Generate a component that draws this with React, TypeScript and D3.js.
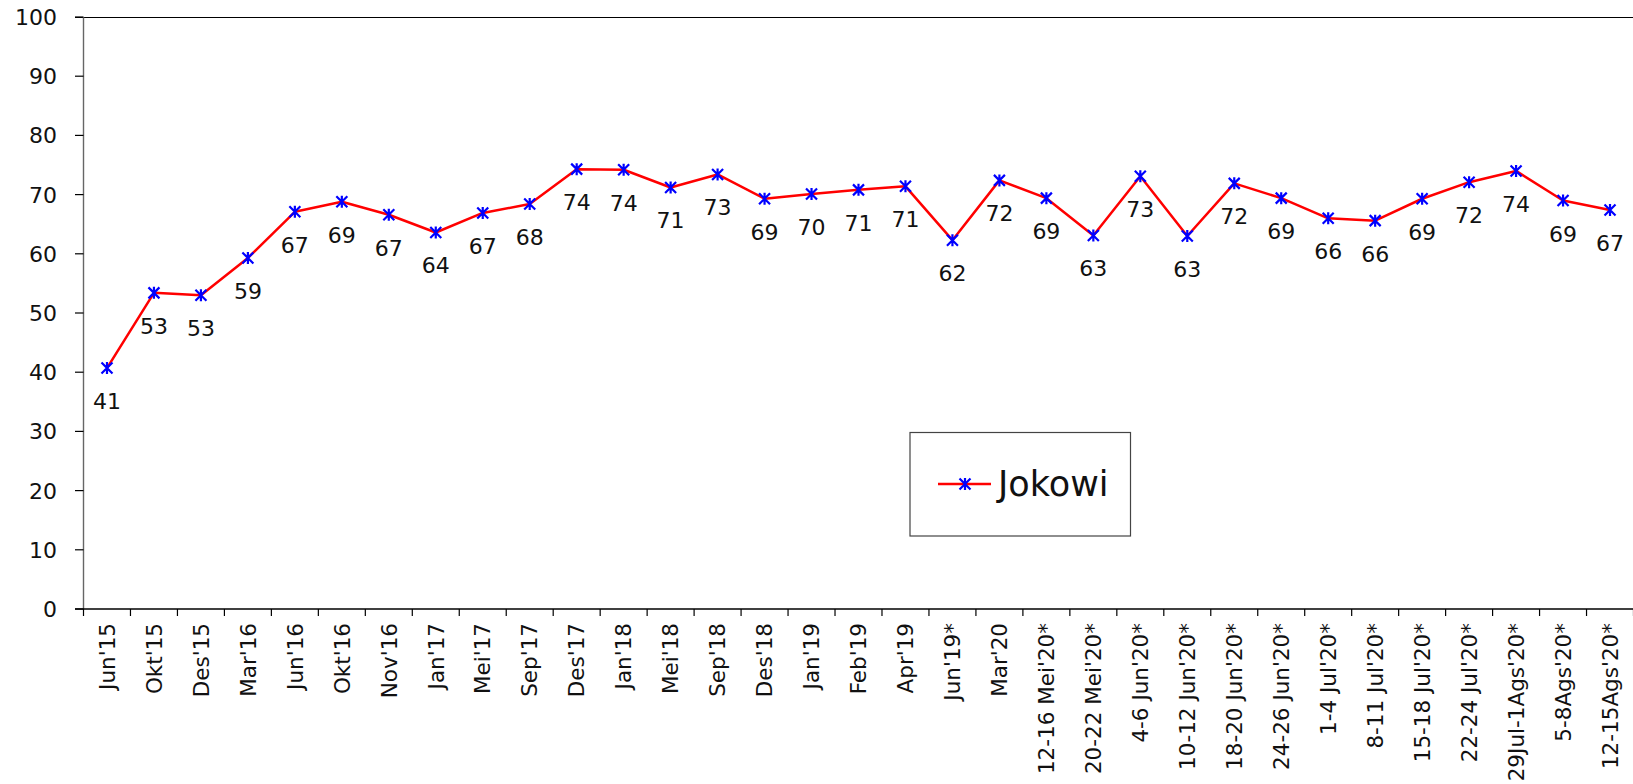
import React from "react";
import * as d3 from "d3";

const categories: string[] = [
  "Jun'15", "Okt'15", "Des'15", "Mar'16", "Jun'16", "Okt'16", "Nov'16", "Jan'17",
  "Mei'17", "Sep'17", "Des'17", "Jan'18", "Mei'18", "Sep'18", "Des'18", "Jan'19",
  "Feb'19", "Apr'19", "Jun'19*", "Mar'20", "12-16 Mei'20*", "20-22 Mei'20*",
  "4-6 Jun'20*", "10-12 Jun'20*", "18-20 Jun'20*", "24-26 Jun'20*", "1-4 Jul'20*",
  "8-11 Jul'20*", "15-18 Jul'20*", "22-24 Jul'20*", "29Jul-1Ags'20*", "5-8Ags'20*",
  "12-15Ags'20*",
];

const jokowi: number[] = [
  40.7, 53.4, 53.0, 59.3, 67.1, 68.8, 66.6, 63.6, 66.9, 68.4, 74.3, 74.2, 71.2,
  73.4, 69.3, 70.1, 70.8, 71.4, 62.3, 72.4, 69.4, 63.1, 73.1, 63.0, 71.9, 69.4,
  66.0, 65.6, 69.3, 72.1, 74.0, 69.0, 67.4,
];

const yTicks: number[] = [0, 10, 20, 30, 40, 50, 60, 70, 80, 90, 100];
const seriesName = "Jokowi";

const W = 1633;
const H = 784;
const left = 83.5;
const right = 1633.5;
const top = 17;
const bottom = 609;
const FONT = "'DejaVu Sans', Verdana, sans-serif";

export default function App() {
  const x = d3.scaleBand<string>().domain(categories).range([left, right]);
  const y = d3.scaleLinear().domain([0, 100]).range([bottom, top]);
  const cx = (c: string) => (x(c) as number) + x.bandwidth() / 2;
  const line = d3
    .line<number>()
    .x((_, i) => cx(categories[i]))
    .y((d) => y(d));
  const r = 5.5;
  const star = (px: number, py: number) =>
    `M${px - r},${py - r}L${px + r},${py + r}M${px - r},${py + r}L${px + r},${py - r}M${px},${py - r - 0.5}L${px},${py + r + 0.5}`;
  const bounds = d3.range(categories.length + 1).map((k) => left + k * x.step());

  const lg = { x: 910, y: 432.5, w: 220.5, h: 103.5 };
  const lgY = 484;

  return (
    <svg
      width={W}
      height={H}
      style={{ position: "absolute", left: 0, top: 0, background: "#fff" }}
      fontFamily={FONT}
    >
      {/* top border */}
      <line x1={75} x2={right} y1={top + 0.5} y2={top + 0.5} stroke="#000" strokeWidth={1.2} />
      {/* y axis */}
      <line x1={left} x2={left} y1={top} y2={bottom} stroke="#666" strokeWidth={1.4} />
      {yTicks.map((t) => (
        <g key={t}>
          <line x1={75} x2={left} y1={y(t)} y2={y(t)} stroke="#000" strokeWidth={1.2} />
          <text x={57} y={y(t)} dy="0.36em" textAnchor="end" fontSize={22} fill="#111">
            {t}
          </text>
        </g>
      ))}
      {/* x axis */}
      <line x1={75} x2={right} y1={bottom} y2={bottom} stroke="#000" strokeWidth={1.4} />
      {bounds.map((b, i) => (
        <line key={i} x1={b} x2={b} y1={bottom} y2={bottom + 7} stroke="#000" strokeWidth={1.2} />
      ))}
      {categories.map((c) => (
        <text
          key={c}
          transform={`translate(${cx(c)},${bottom + 14}) rotate(-90)`}
          dy="0.36em"
          textAnchor="end"
          fontSize={21.5}
          fill="#111"
        >
          {c}
        </text>
      ))}
      {/* series line */}
      <path d={line(jokowi) || ""} fill="none" stroke="#ff0000" strokeWidth={2.5} strokeLinejoin="round" />
      {jokowi.map((v, i) => (
        <path key={i} d={star(cx(categories[i]), y(v))} stroke="#0000ff" strokeWidth={2.2} fill="none" />
      ))}
      {jokowi.map((v, i) => (
        <text
          key={"l" + i}
          x={cx(categories[i])}
          y={y(v) + 41}
          textAnchor="middle"
          fontSize={22}
          fill="#111"
        >
          {Math.round(v)}
        </text>
      ))}
      {/* legend */}
      <rect x={lg.x} y={lg.y} width={lg.w} height={lg.h} fill="#fff" stroke="#444" strokeWidth={1.2} />
      <line x1={938} x2={991} y1={lgY} y2={lgY} stroke="#ff0000" strokeWidth={2.5} />
      <path d={star(965, lgY)} stroke="#0000ff" strokeWidth={2.2} fill="none" />
      <text x={998} y={lgY + 12} fontSize={35} fill="#111">
        {seriesName}
      </text>
    </svg>
  );
}
